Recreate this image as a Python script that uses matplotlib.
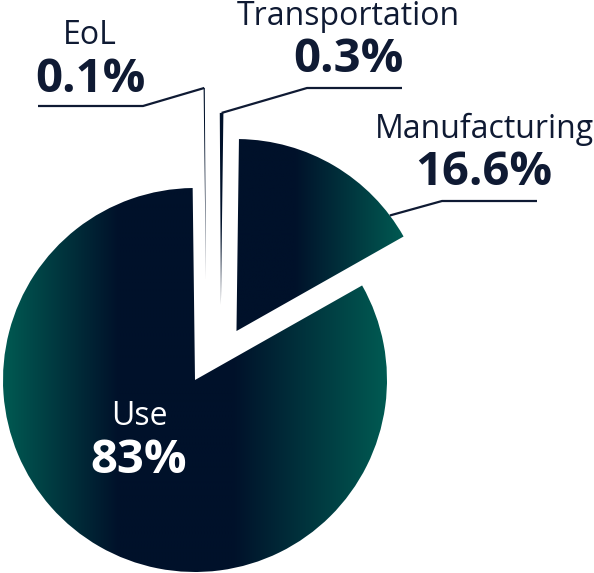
import matplotlib
matplotlib.use("Agg")
import numpy as np
import matplotlib.pyplot as plt
from matplotlib.colors import LinearSegmentedColormap

# ---- data ----
categories = ["Manufacturing", "Transportation", "EoL", "Use"]
shares = [16.6, 0.3, 0.1, 83.0]
value_labels = ["16.6%", "0.3%", "0.1%", "83%"]

# ---- style / layout ----
W, H, DPI = 594, 573, 100
R_PX, CX, CY = 192, 195, 380          # pixel radius and pie centre
DARK = "#00112a"
TEAL = "#005a52"
TEXT = "#0f1a33"
FONT = "Open Sans"

# wedge displacement (radius units) – the "explode" look
offsets = [(0.216, 0.255), (0.135, 0.391), (0.057, 0.521), (0.0, 0.0)]
grad_stops = {
    "Use": [(0.0, TEAL), (0.3, DARK), (0.6, DARK), (1.0, TEAL)],
    "Manufacturing": [(0.0, DARK), (0.35, DARK), (1.0, TEAL)],
}
# label placement in pixels: x-centre, name baseline, value baseline
label_pos = {
    "EoL": (90, 44, 92),
    "Transportation": (348, 25, 72),
    "Manufacturing": (484, 138, 185),
    "Use": (139, 425, 473),
}
# leader lines: anchor angle on wedge (deg), elbow px, end px
leaders = {
    "EoL": (90.5, (143, 106), (38, 106)),
    "Transportation": (89.8, (307, 88), (402, 88)),
    "Manufacturing": (37.0, (442, 201), (537, 201)),
}


def P(x, y):
    return ((x - CX) / R_PX, (CY - y) / R_PX)


fig = plt.figure(figsize=(W / DPI, H / DPI), dpi=DPI)
ax = fig.add_axes([0, 0, 1, 1])

wedges, _ = ax.pie(shares, startangle=29.5, counterclock=True, radius=1,
                   center=(0, 0), wedgeprops=dict(linewidth=0))

grad = np.linspace(0, 1, 512).reshape(1, -1)
for w, name, off in zip(wedges, categories, offsets):
    w.set_center(off)
    if name in grad_stops:
        path = w.get_path()
        ext = path.get_extents()
        cmap = LinearSegmentedColormap.from_list(name, grad_stops[name])
        im = ax.imshow(grad, cmap=cmap, extent=[ext.x0, ext.x1, ext.y0, ext.y1],
                       aspect="auto", interpolation="bilinear", zorder=1)
        im.set_clip_path(w)
        w.set_facecolor("none")
    else:
        w.set_facecolor(DARK)
        w.set_zorder(2)

# leader lines
for name, (ang, elbow, end) in leaders.items():
    i = categories.index(name)
    cx0, cy0 = wedges[i].center
    a = np.deg2rad(ang)
    anchor = (cx0 + np.cos(a), cy0 + np.sin(a))
    pts = [anchor, P(*elbow), P(*end)]
    ax.plot([p[0] for p in pts], [p[1] for p in pts], color=TEXT, lw=1.6,
            solid_capstyle="butt", solid_joinstyle="miter", zorder=3)

# labels
for name, val in zip(categories, value_labels):
    x, yb1, yb2 = label_pos[name]
    col = "white" if name == "Use" else TEXT
    ax.text(*P(x, yb1), name, ha="center", va="baseline", fontsize=23,
            family=FONT, color=col, zorder=4)
    ax.text(*P(x, yb2), val, ha="center", va="baseline", fontsize=34,
            family=FONT, fontweight="bold", color=col, zorder=4)

ax.set_aspect("auto")
ax.set_xlim(-CX / R_PX, (W - CX) / R_PX)
ax.set_ylim(-(H - CY) / R_PX, CY / R_PX)
ax.axis("off")

fig.savefig("out.png", dpi=DPI, facecolor="white")
